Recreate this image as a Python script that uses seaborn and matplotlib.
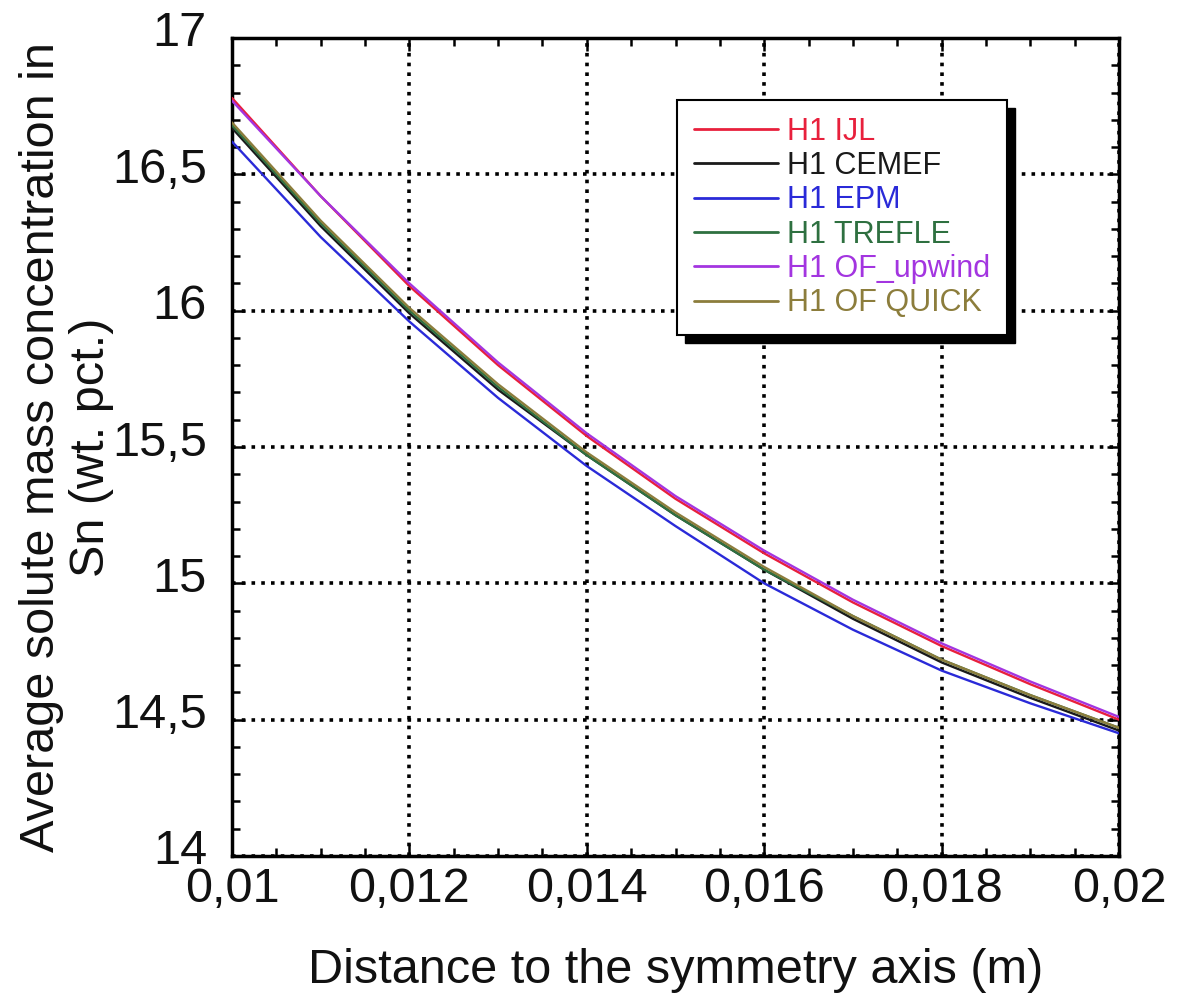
import numpy as np
import pandas as pd
import seaborn as sns
import matplotlib
matplotlib.use("Agg")
import matplotlib.pyplot as plt
from matplotlib.ticker import FuncFormatter, MultipleLocator
from matplotlib.patches import Rectangle
from matplotlib.transforms import IdentityTransform, ScaledTranslation

# ---- data ----
distance = [0.010, 0.011, 0.012, 0.013, 0.014, 0.015, 0.016, 0.017, 0.018, 0.019, 0.020]
h1_ijl = [16.78, 16.42, 16.09, 15.80, 15.54, 15.31, 15.11, 14.93, 14.77, 14.63, 14.50]
h1_cemef = [16.67, 16.31, 15.99, 15.71, 15.47, 15.25, 15.05, 14.87, 14.71, 14.58, 14.46]
h1_epm = [16.62, 16.27, 15.96, 15.68, 15.43, 15.21, 15.00, 14.83, 14.68, 14.56, 14.45]
h1_trefle = [16.68, 16.32, 16.00, 15.72, 15.47, 15.25, 15.05, 14.88, 14.72, 14.59, 14.47]
h1_of_upwind = [16.77, 16.42, 16.10, 15.81, 15.55, 15.32, 15.12, 14.94, 14.78, 14.64, 14.51]
h1_of_quick = [16.69, 16.33, 16.01, 15.73, 15.48, 15.26, 15.06, 14.88, 14.72, 14.59, 14.47]

series_names = ["H1 IJL", "H1 CEMEF", "H1 EPM", "H1 TREFLE", "H1 OF_upwind", "H1 OF QUICK"]
series_values = [h1_ijl, h1_cemef, h1_epm, h1_trefle, h1_of_upwind, h1_of_quick]
series_colors = ["#e8203c", "#1a1a1a", "#2a2ad8", "#2e7040", "#a335e0", "#8c7d3c"]

x_label = "Distance to the symmetry axis (m)"
y_label = "Average solute mass concentration in\nSn (wt. pct.)"

rows = []
for name, vals in zip(series_names, series_values):
    for x, y in zip(distance, vals):
        rows.append({"x": x, "y": y, "series": name})
df = pd.DataFrame(rows)

sns.set_theme(style="white")
plt.rcParams["font.family"] = ["Liberation Sans", "DejaVu Sans"]

fig = plt.figure(figsize=(11.85, 10.0), dpi=100)
ax = fig.add_axes([232 / 1185, 1 - 856 / 1000, (1119 - 232) / 1185, (856 - 38) / 1000])

palette = dict(zip(series_names, series_colors))
sns.lineplot(data=df, x="x", y="y", hue="series", hue_order=series_names,
             palette=palette, linewidth=1.7, ax=ax, legend=True, zorder=3)

ax.set_xlim(0.01, 0.02)
ax.set_ylim(14, 17)
ax.xaxis.set_major_locator(MultipleLocator(0.002))
ax.xaxis.set_minor_locator(MultipleLocator(0.0005))
ax.yaxis.set_major_locator(MultipleLocator(0.5))
ax.yaxis.set_minor_locator(MultipleLocator(0.1))

fmt = FuncFormatter(lambda v, p: ("%g" % round(v, 6)).replace(".", ","))
ax.xaxis.set_major_formatter(fmt)
ax.yaxis.set_major_formatter(fmt)

ax.grid(True, which="major", color="black", linestyle=(0, (1, 1.7)), linewidth=2.6, zorder=1)
ax.set_axisbelow(True)

for s in ax.spines.values():
    s.set_color("black")
    s.set_linewidth(2.5)
    s.set_visible(True)

ax.tick_params(which="both", direction="in", top=True, right=True, bottom=True, left=True,
               color="black", width=1.8)
ax.tick_params(which="major", length=9)
ax.tick_params(which="minor", length=6)
ax.tick_params(axis="x", which="major", labelsize=35, pad=8, labelcolor="#111111")
ax.tick_params(axis="y", which="major", labelsize=35, pad=18, labelcolor="#111111")

ax.set_xlabel(x_label, fontsize=35, color="#111111", labelpad=26)
ax.set_ylabel(y_label, fontsize=35, color="#111111", linespacing=1.15)
ax.yaxis.set_label_coords(-0.133, 0.5)

leg = ax.legend(loc="upper left", bbox_to_anchor=((677 - 232) / 887, (856 - 100) / 818),
                fontsize=22, frameon=True, fancybox=False, edgecolor="black",
                framealpha=1, handlelength=2.75, handletextpad=0.3, labelspacing=0.14,
                borderpad=0.55, borderaxespad=0)
leg.get_frame().set_linewidth(1.5)
leg.set_zorder(6)
for txt, col in zip(leg.get_texts(), series_colors):
    txt.set_color(col)
for line in leg.get_lines():
    line.set_linewidth(2)

fig.canvas.draw()
# y tick labels sit slightly above their ticks in the reference
offset = ScaledTranslation(0, 9 / 100, fig.dpi_scale_trans)
for lab in ax.get_yticklabels():
    lab.set_transform(lab.get_transform() + offset)

bb = leg.get_window_extent()
shadow = Rectangle((bb.x0 + 8, bb.y0 - 8), bb.width, bb.height, transform=IdentityTransform(),
                   facecolor="black", edgecolor="black", zorder=5.5)
ax.add_patch(shadow)

fig.savefig("out.png", dpi=100, facecolor="white")
